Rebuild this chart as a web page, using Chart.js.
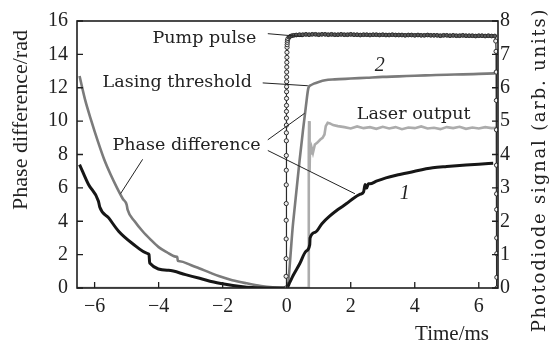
<!DOCTYPE html>
<html>
<head>
<meta charset="utf-8">
<script src="https://cdn.jsdelivr.net/npm/chart.js@4/dist/chart.umd.min.js"></script>
<style>
  html, body { margin: 0; padding: 0; background: #fff; }
  #wrap { position: relative; width: 550px; height: 347px; }
</style>
</head>
<body>
<div id="wrap"><canvas id="chart"></canvas></div>
<script>
// ---------- data (time in ms) ----------
// curve 1 : phase difference (black), rad
const c1T = [-6.47, -6.19, -5.88, -5.84, -5.56, -5.25, -4.81, -4.34, -4.30, -4.28, -3.69, -3.16, -2.72, -2.10, -1.25, -0.50, 0.00,
             0.10, 0.20, 0.41, 0.60, 0.72, 0.73, 0.90, 1.10, 1.34, 1.60, 1.87, 2.10, 2.30, 2.40, 2.45, 2.50, 2.55, 2.60, 2.80, 3.10, 3.53, 4.00, 4.56, 5.00, 5.60, 6.00, 6.45]
const c1P = [7.40, 6.20, 5.20, 4.85, 4.20, 3.40, 2.65, 2.06, 2.00, 1.50, 1.06, 0.80, 0.58, 0.28, 0.05, 0.00, 0.00,
             0.35, 0.75, 1.47, 2.20, 2.60, 3.00, 3.35, 3.85, 4.30, 4.70, 5.06, 5.40, 5.62, 5.75, 6.20, 6.00, 6.25, 6.24, 6.40, 6.60, 6.80, 7.00, 7.20, 7.28, 7.37, 7.42, 7.47]

// curve 2 : phase difference (grey), rad
const c2T = [-6.47, -6.30, -6.10, -5.90, -5.70, -5.50, -5.30, -5.12, -5.00, -4.97, -4.75, -4.50, -4.25, -4.00, -3.75, -3.47, -3.42, -3.40, -3.34, -3.00, -2.72, -2.40, -2.10, -1.70, -1.25, -0.80, -0.44, 0.00,
             0.20, 0.40, 0.50, 0.60, 0.68, 0.75, 0.85, 1.00, 1.20, 1.50, 2.00, 2.50, 3.00, 3.50, 4.00, 4.50, 5.00, 5.50, 6.00, 6.50]
const c2P = [12.70, 11.30, 10.00, 8.80, 7.70, 6.80, 6.00, 5.35, 5.00, 4.70, 4.00, 3.40, 2.90, 2.45, 2.15, 1.88, 1.86, 1.62, 1.60, 1.38, 1.17, 0.92, 0.70, 0.47, 0.28, 0.12, 0.04, 0.00,
             3.90, 7.60, 9.30, 10.90, 12.00, 12.15, 12.25, 12.35, 12.45, 12.50, 12.55, 12.60, 12.65, 12.68, 12.72, 12.75, 12.78, 12.80, 12.83, 12.86]

// pump pulse, photodiode signal (arb. units)
const pumpT = [-0.020, -0.019, -0.018, -0.017, -0.016, -0.015, -0.014, -0.013, -0.012, -0.011, -0.010, -0.009, -0.008, -0.007, -0.006,
               -0.005, -0.004, -0.003, -0.002, -0.001, 0.000, 0.002, 0.004, 0.006, 0.008, 0.011, 0.014, 0.018, 0.024,
               0.04, 0.07, 0.11, 0.16, 0.22, 0.30,
               0.4, 0.5, 0.6, 0.7, 0.8, 0.9, 1.0, 1.1, 1.2, 1.3, 1.4, 1.5, 1.6, 1.7, 1.8, 1.9, 2.0, 2.1, 2.2, 2.3, 2.4, 2.5, 2.6, 2.7, 2.8, 2.9,
               3.0, 3.1, 3.2, 3.3, 3.4, 3.5, 3.6, 3.7, 3.8, 3.9, 4.0, 4.1, 4.2, 4.3, 4.4, 4.5, 4.6, 4.7, 4.8, 4.9, 5.0, 5.1, 5.2, 5.3, 5.4,
               5.5, 5.6, 5.7, 5.8, 5.9, 6.0, 6.1, 6.2, 6.3, 6.4, 6.5,
               6.530, 6.540, 6.545, 6.550, 6.552, 6.554, 6.556, 6.558, 6.560, 6.562, 6.564, 6.566]
const pumpS = [0.00, 0.35, 0.88, 1.47, 2.03, 2.53, 3.09, 3.53, 3.97, 4.41, 4.65, 4.88, 5.09, 5.29, 5.47,
               5.68, 5.88, 6.03, 6.18, 6.32, 6.47, 6.62, 6.76, 6.91, 7.06, 7.21, 7.29, 7.36, 7.42,
               7.47, 7.51, 7.54, 7.56, 7.57, 7.58,
               7.59, 7.59, 7.60, 7.59, 7.60, 7.60, 7.59, 7.60, 7.60, 7.59, 7.60, 7.59, 7.59, 7.60, 7.59, 7.59, 7.60, 7.59, 7.59, 7.58, 7.59, 7.59, 7.58, 7.59, 7.59, 7.58,
               7.59, 7.58, 7.58, 7.59, 7.58, 7.58, 7.58, 7.57, 7.58, 7.58, 7.57, 7.58, 7.57, 7.57, 7.58, 7.57, 7.57, 7.57, 7.56, 7.57, 7.57, 7.56, 7.57, 7.56, 7.56,
               7.57, 7.56, 7.56, 7.56, 7.55, 7.56, 7.56, 7.55, 7.56, 7.55, 7.55,
               7.40, 7.09, 6.47, 5.62, 4.74, 3.68, 2.82, 2.35, 1.50, 1.03, 0.32, 0.00]

// laser output, photodiode signal (arb. units)
const laserT = [-6.55, 0.66, 0.68, 0.69, 0.70, 0.71, 0.72, 0.73, 0.75, 0.78, 0.82, 0.88, 0.95, 1.05, 1.12, 1.18, 1.22, 1.28, 1.35, 1.45, 1.60,
                1.8, 2.0, 2.2, 2.4, 2.6, 2.8, 3.0, 3.2, 3.4, 3.6, 3.8, 4.0, 4.2, 4.4, 4.6, 4.8, 5.0, 5.2, 5.4, 5.6, 5.8, 6.0, 6.2, 6.4, 6.55]
const laserS = [0.00, 0.00, 0.00, 4.20, 5.00, 4.60, 3.50, 4.30, 4.00, 4.20, 4.05, 4.30, 4.35, 4.45, 4.50, 4.60, 4.85, 4.95, 4.93, 4.88, 4.85,
                4.82, 4.78, 4.84, 4.79, 4.82, 4.77, 4.83, 4.78, 4.82, 4.76, 4.81, 4.79, 4.84, 4.78, 4.80, 4.76, 4.82, 4.79, 4.83, 4.77, 4.81, 4.78, 4.82, 4.79, 4.80]

// axes
const xTickValues  = [-6, -4, -2, 0, 2, 4, 6]
const yTickValues  = [0, 2, 4, 6, 8, 10, 12, 14, 16]
const y2TickValues = [0, 1, 2, 3, 4, 5, 6, 7, 8]
const xTitle  = 'Time/ms'
const yTitle  = 'Phase difference/rad'
const y2Title = 'Photodiode signal (arb. units)'

// annotation texts
const noteTexts = ['Pump pulse', 'Lasing threshold', 'Laser output', 'Phase difference']
const curveNums = ['2', '1']

const zip = (xs, ys) => xs.map((x, i) => ({ x, y: ys[i] }))
const minusFmt = v => v < 0 ? '\u2212' + Math.abs(v) : String(v)

// =============================================
// 枠・内向き目盛・注記
// =============================================
const framePlugin = {
  id: 'frame',
  afterDraw(chart) {
    const { ctx, chartArea: a } = chart
    const sx = chart.scales.x, sy = chart.scales.y, sy2 = chart.scales.y2
    const P = (t, p) => [sx.getPixelForValue(t), sy.getPixelForValue(p)]
    ctx.save()

    // frame
    ctx.strokeStyle = '#1e1e1e'
    ctx.lineWidth = 1.6
    ctx.strokeRect(a.left, a.top, a.right - a.left, a.bottom - a.top)

    // inward ticks
    ctx.lineWidth = 1.3
    ctx.beginPath()
    for (const v of xTickValues) { const px = sx.getPixelForValue(v); ctx.moveTo(px, a.bottom); ctx.lineTo(px, a.bottom - 6) }
    for (const v of yTickValues) { const py = sy.getPixelForValue(v); ctx.moveTo(a.left, py); ctx.lineTo(a.left + 6, py) }
    for (const v of y2TickValues) { const py = sy2.getPixelForValue(v); ctx.moveTo(a.right, py); ctx.lineTo(a.right - 6, py) }
    ctx.stroke()

    // leader lines (time, phase)
    const leaders = [
      [-0.59, 15.24, 0.50, 15.06],
      [-0.75, 12.29, 0.66, 12.12],
      [-4.50, 7.71, -5.19, 5.65],
      [-0.59, 8.88, 0.56, 10.47],
      [-0.59, 8.24, 2.13, 5.65],
    ]
    ctx.lineWidth = 1
    ctx.strokeStyle = '#222'
    ctx.beginPath()
    for (const [t0, p0, t1, p1] of leaders) {
      const [x0, y0] = P(t0, p0), [x1, y1] = P(t1, p1)
      ctx.moveTo(x0, y0); ctx.lineTo(x1, y1)
    }
    ctx.stroke()

    // annotation texts (left edge, baseline)
    ctx.fillStyle = '#222'
    ctx.textBaseline = 'alphabetic'
    ctx.textAlign = 'left'
    ctx.font = '17.5px "DejaVu Serif"'
    const notePos = [[-4.19, 14.71], [-5.75, 12.06], [2.19, 10.12], [-5.44, 8.29]]
    noteTexts.forEach((s, i) => { const [x, y] = P(...notePos[i]); ctx.fillText(s, x, y) })

    ctx.font = 'italic 20px "Liberation Serif"'
    const numPos = [[2.75, 13.0], [3.53, 5.35]]
    curveNums.forEach((s, i) => { const [x, y] = P(...numPos[i]); ctx.fillText(s, x, y) })

    // axis titles
    ctx.font = '21px "Liberation Serif"'
    ctx.textAlign = 'right'
    ctx.fillText(xTitle, 489, 340)

    ctx.save()
    ctx.translate(27, 120)
    ctx.rotate(-Math.PI / 2)
    ctx.textAlign = 'center'
    ctx.font = '22px "Liberation Serif"'
    ctx.fillText(yTitle, 0, 0)
    ctx.restore()

    ctx.save()
    ctx.translate(545, 170)
    ctx.rotate(-Math.PI / 2)
    ctx.textAlign = 'center'
    ctx.font = '18px "DejaVu Serif"'
    ctx.letterSpacing = '1.8px'
    ctx.fillText(y2Title, 0, 0)
    ctx.restore()

    ctx.restore()
  }
}

const tickFont = { family: '"Liberation Serif"', size: 20 }

// pump plateau drawn as a thick, dark band of overlapping circles
const onPlateau = x => x > 0.05 && x < 6.52
const pumpWidth  = ctx => (onPlateau(ctx.p0.parsed.x) && onPlateau(ctx.p1.parsed.x)) ? 3.4 : 1.2
const pumpFill   = ctx => onPlateau(pumpT[ctx.dataIndex]) ? '#5a5a5a' : '#eeeeee'
const pumpRadius = ctx => onPlateau(pumpT[ctx.dataIndex]) ? 1.9 : 2.1

new Chart(document.getElementById('chart'), {
  type: 'line',
  data: {
    datasets: [
      {
        label: 'Pump pulse', data: zip(pumpT, pumpS), yAxisID: 'y2', order: 0,
        borderColor: '#2a2a2a', borderWidth: 1.2,
        segment: { borderWidth: pumpWidth },
        pointStyle: 'circle', pointRadius: pumpRadius, pointBorderWidth: 1,
        pointBackgroundColor: pumpFill, pointBorderColor: '#2e2e2e',
      },
      {
        label: 'curve 1', data: zip(c1T, c1P), yAxisID: 'y', order: 1,
        borderColor: '#161616', borderWidth: 3, pointRadius: 0,
        cubicInterpolationMode: 'monotone',
      },
      {
        label: 'curve 2', data: zip(c2T, c2P), yAxisID: 'y', order: 2,
        borderColor: '#7b7b7b', borderWidth: 2.6, pointRadius: 0,
        cubicInterpolationMode: 'monotone',
      },
      {
        label: 'Laser output', data: zip(laserT, laserS), yAxisID: 'y2', order: 3,
        borderColor: '#acacac', borderWidth: 2.6, pointRadius: 0,
      },
    ]
  },
  options: {
    responsive: true, maintainAspectRatio: false, animation: false, devicePixelRatio: 1,
    layout: { padding: { top: 16, left: 0, right: 0, bottom: 0 } },
    plugins: { legend: { display: false }, tooltip: { enabled: false } },
    scales: {
      x: {
        type: 'linear', position: 'bottom', min: -6.55, max: 6.6,
        grid: { display: false, drawTicks: false }, border: { display: false },
        ticks: { font: tickFont, color: '#222', padding: 7, maxRotation: 0, callback: minusFmt },
        afterBuildTicks: s => { s.ticks = xTickValues.map(v => ({ value: v })) },
        afterFit: s => { s.height = 59 },
      },
      y: {
        type: 'linear', position: 'left', min: 0, max: 16,
        grid: { display: false, drawTicks: false }, border: { display: false },
        ticks: { font: tickFont, color: '#222', padding: 9 },
        afterBuildTicks: s => { s.ticks = yTickValues.map(v => ({ value: v })) },
        afterFit: s => { s.width = 77 },
      },
      y2: {
        type: 'linear', position: 'right', min: 0, max: 8,
        grid: { display: false, drawTicks: false }, border: { display: false },
        ticks: { font: tickFont, color: '#222', padding: 2 },
        afterBuildTicks: s => { s.ticks = y2TickValues.map(v => ({ value: v })) },
        afterFit: s => { s.width = 52 },
      },
    }
  },
  plugins: [framePlugin]
})
</script>
</body>
</html>
